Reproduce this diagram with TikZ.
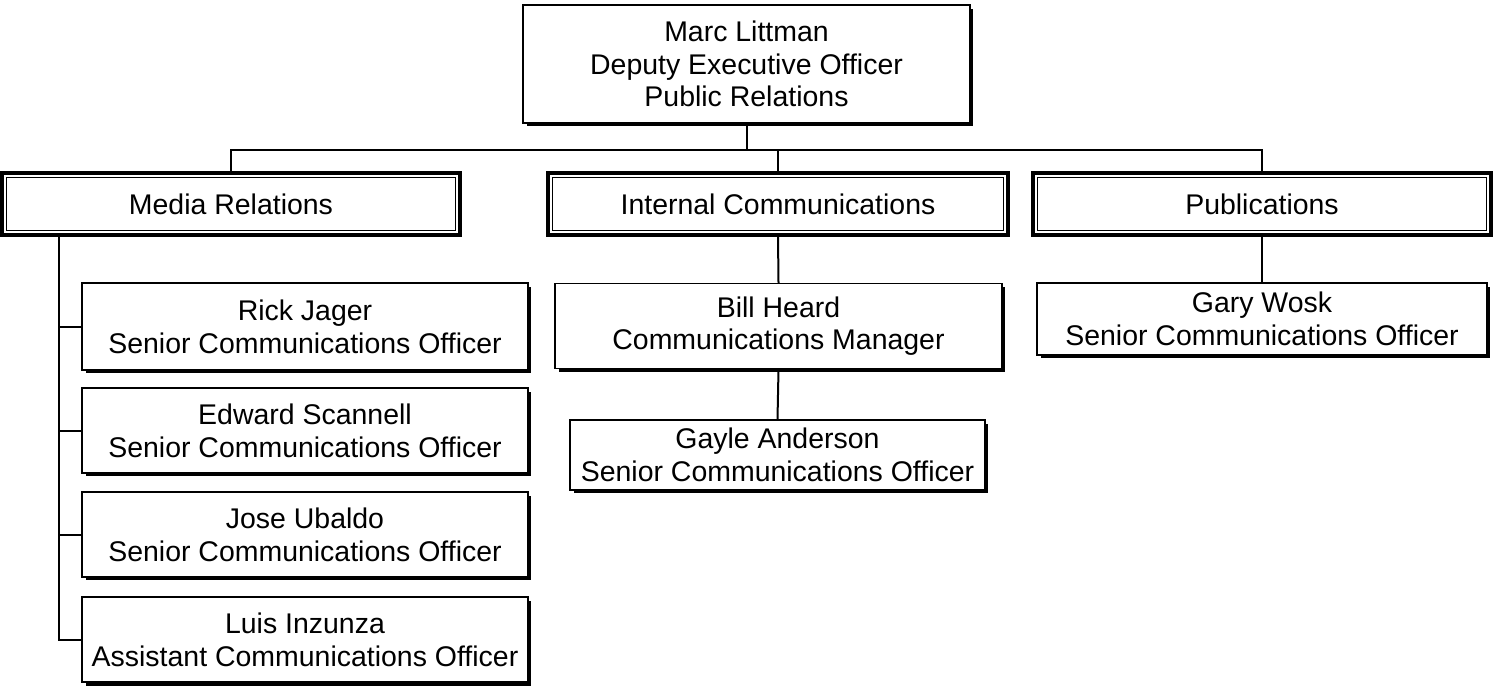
\documentclass[tikz,border=0pt]{standalone}
\usepackage{fontspec}
\setmainfont{Liberation Sans}
\usetikzlibrary{shadows}

\begin{document}
\begin{tikzpicture}[x=0.02cm,y=-0.02cm,
    txt/.style={font=\fontsize{16.2}{18.6}\selectfont, align=center, inner sep=0pt},
    person/.style={txt, draw, line width=0.03cm, fill=white,
        drop shadow={shadow xshift=0.07cm, shadow yshift=-0.07cm, fill=black, opacity=1}},
    dept/.style={txt, draw, line width=0.065cm, fill=white, minimum height=1.24cm},
    link/.style={line width=0.04cm}]
                \useasboundingbox (0,0) rectangle (1493,686);

                % head of office
                \node[person, minimum width=8.94cm, minimum height=2.36cm] (marc) at (746.5,64)
                    {Marc Littman\\Deputy Executive Officer\\Public Relations};

                % departments
                \node[dept, minimum width=9.16cm] (media) at (231,204) {Media Relations};
                \node[dept, minimum width=9.2cm] (internal) at (778,204) {Internal Communications};
                \node[dept, minimum width=9.16cm] (pub) at (1262,204) {Publications};
                \foreach \d in {media,internal,pub}
                    \draw[line width=0.022cm] ([shift={(6,6)}]\d.north west) rectangle ([shift={(-6,-6)}]\d.south east);

                % media relations staff
                \node[person, minimum width=8.92cm, minimum height=1.74cm] (rick) at (305,326.5)
                    {Rick Jager\\Senior Communications Officer};
                \node[person, minimum width=8.92cm, minimum height=1.7cm] (edward) at (305,430.5)
                    {Edward Scannell\\Senior Communications Officer};
                \node[person, minimum width=8.92cm, minimum height=1.7cm] (jose) at (305,534.5)
                    {Jose Ubaldo\\Senior Communications Officer};
                \node[person, minimum width=8.92cm, minimum height=1.7cm] (luis) at (305,639.5)
                    {Luis Inzunza\\Assistant Communications Officer};

                % internal communications staff
                \node[person, minimum width=8.94cm, minimum height=1.7cm] (bill) at (778.5,326)
                    {Bill Heard\\Communications Manager};
                \node[person, minimum width=8.3cm, minimum height=1.4cm] (gayle) at (777.5,455)
                    {Gayle Anderson\\Senior Communications Officer};

                % publications staff
                \node[person, minimum width=9cm, minimum height=1.44cm] (gary) at (1262,319)
                    {Gary Wosk\\Senior Communications Officer};

                % connectors
                \coordinate (bus) at (0,150);
                \coordinate (spine) at (59,237);
                \draw[link] (marc.south) -- (marc.south |- bus);
                \draw[link] (media.north) |- (pub.north |- bus) -- (pub.north);
                \draw[link] (internal.north) -- (internal.north |- bus);
                \draw[link] (internal.south) -- (bill.north);
                \draw[link] (bill.south) -- (gayle.north);
                \draw[link] (pub.south) -- (gary.north);
                \draw[link] (spine) |- (luis.west);
                \foreach \p in {rick,edward,jose}
                    \draw[link] (spine |- \p.west) -- (\p.west);
            \end{tikzpicture}
\end{document}
